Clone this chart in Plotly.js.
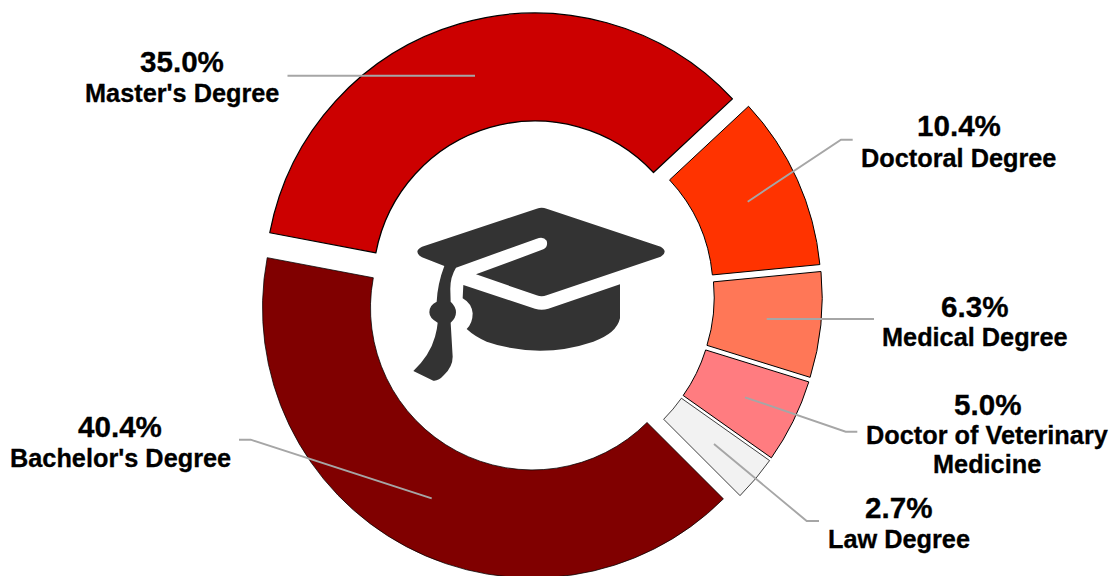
<!DOCTYPE html>
<html>
<head>
<meta charset="utf-8">
<title>Degree distribution</title>
<script src="https://cdn.plot.ly/plotly-3.0.1.min.js"></script>
<style>
  html, body { margin: 0; padding: 0; background: #fff; overflow: hidden; }
  #chart { width: 1113px; height: 600px; }
  /* Slightly heavier callout lettering */
  .annotation-text { stroke: #000; stroke-width: 0.3px; }
</style>
</head>
<body>
<div id="chart"></div>
<script>
// Degree shares, clockwise from the lower right of the ring.
const categories = ["Bachelor's Degree", "Master's Degree", "Doctoral Degree", "Medical Degree", "Doctor of Veterinary Medicine", "Law Degree"];
const shares = [40.4, 35.0, 10.4, 6.3, 5.0, 2.7];
const sliceColors = ["#800000", "#CC0000", "#FF3300", "#FF7757", "#FF7C80", "#F2F2F2"];
const sliceEdgeWidths = [0.75, 1.25, 1, 1, 1, 0.75];

// Name text split over lines for the callouts.
const nameLines = [["Bachelor's Degree"], ["Master's Degree"], ["Doctoral Degree"], ["Medical Degree"], ["Doctor of Veterinary", "Medicine"], ["Law Degree"]];

// Callout placement in page pixels: text centre, first-line centres, leader polyline.
const calloutX = [120, 182, 958.5, 975, 987, 898.5];
const percentY = [426, 62, 126, 306, 404, 507];
const nameY = [[457.5], [93], [158], [337], [434.7, 464], [539]];
const leaders = [
  [[239, 439.7], [250.7, 439.7], [431.7, 498.3]],
  [[287.5, 75.7], [475, 75.7]],
  [[852.7, 139.7], [841, 139.7], [747.7, 201.7]],
  [[874, 319], [766.7, 319]],
  [[857.3, 431.7], [845.7, 431.7], [745, 397.3]],
  [[819, 521], [806.7, 521], [714, 444]]
];

const W = 1113, H = 600;
const fx = x => x / W;
const fy = y => 1 - y / H;

// Ring geometry: centre and the full domain size that includes the pull.
const cx = 538.8, cy = 296, outerRadius = 270, pull = 0.05;
const half = outerRadius * (1 + pull);

// Turns a path written in page-like units into paper coordinates.
function toPaper(d, scale, ox, oy) {
  let isX = true;
  return d.replace(/-?\d+(\.\d+)?/g, n => {
    const v = parseFloat(n) * scale;
    const out = isX ? fx(ox + v) : fy(oy + v);
    isX = !isX;
    return out.toFixed(5);
  });
}

// Graduation cap in the hole of the ring.
const capScale = 1 / 3, capX = 400, capY = 190;
const capTop = "M 66 170 L 410 56 Q 425 51 440 56 L 782 170 Q 806 185 782 200 L 440 316 Q 425 322 410 316 L 228 253 L 430 178 Q 445 170 440 152 Q 430 138 410 146 L 168 233 Q 150 262 151 300 L 152 335 Q 168 350 168 367 Q 168 385 152 398 L 158 500 Q 158 530 132 555 Q 115 574 100 572 L 40 543 Q 90 495 105 440 Q 112 415 113 398 Q 88 385 88 367 Q 88 345 110 335 Q 113 280 133 228 L 66 202 Q 38 185 66 170 Z";
const capBody = "M 190 285 L 405 356 Q 425 362 445 356 L 660 283 L 660 385 Q 650 430 580 455 Q 500 482 420 482 Q 330 480 260 455 Q 225 440 200 417 Q 218 400 218 370 Q 215 340 188 325 Z";

const shapes = [capTop, capBody].map(d => ({
  type: "path", xref: "paper", yref: "paper",
  path: toPaper(d, capScale, capX, capY),
  fillcolor: "#333333", line: { width: 0 }, layer: "above"
}));

leaders.forEach(pts => {
  shapes.push({
    type: "path", xref: "paper", yref: "paper", layer: "above",
    path: pts.map((p, i) => (i ? "L " : "M ") + fx(p[0]).toFixed(5) + " " + fy(p[1]).toFixed(5)).join(" "),
    line: { color: "#A6A6A6", width: 1.9 }
  });
});

const font = "'Liberation Sans', Arial, sans-serif";
const annotations = [];
function addText(text, x, y, size) {
  annotations.push({
    xref: "paper", yref: "paper", x: fx(x), y: fy(y),
    xanchor: "center", yanchor: "middle", showarrow: false, text: text,
    font: { family: font, size: size, color: "#000000", weight: "bold" }
  });
}
categories.forEach((c, i) => {
  addText(shares[i].toFixed(1) + "%", calloutX[i], percentY[i], 29.6);
  nameLines[i].forEach((line, j) => addText(line, calloutX[i], nameY[i][j], 25.3));
});

Plotly.newPlot("chart", [{
  type: "pie",
  labels: categories,
  values: shares,
  hole: 0.6,
  sort: false,
  direction: "clockwise",
  rotation: 135,
  pull: pull,
  textinfo: "none",
  hoverinfo: "label+percent",
  domain: { x: [fx(cx - half), fx(cx + half)], y: [fy(cy + half), fy(cy - half)] },
  marker: { colors: sliceColors, line: { color: "#000000", width: sliceEdgeWidths } }
}], {
  width: W, height: H, autosize: false,
  margin: { l: 0, r: 0, t: 0, b: 0, pad: 0 },
  paper_bgcolor: "#ffffff",
  showlegend: false,
  shapes: shapes,
  annotations: annotations
}, { displayModeBar: false, staticPlot: true });
</script>
</body>
</html>
